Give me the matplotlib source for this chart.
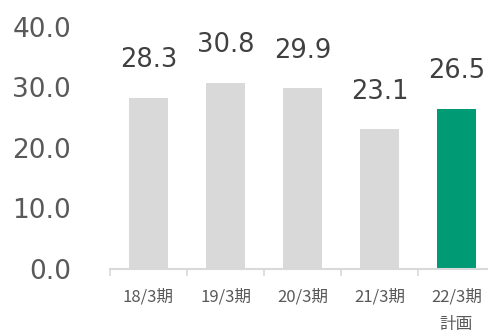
import numpy as np
import matplotlib.pyplot as plt

# 期別の数値（最終期は計画値）
periods = ['18/3期', '19/3期', '20/3期', '21/3期', '22/3期\n計画']
values = [28.3, 30.8, 29.9, 23.1, 26.5]
bar_colors = ['#d9d9d9', '#d9d9d9', '#d9d9d9', '#d9d9d9', '#009a74']
y_ticks = [0, 10, 20, 30, 40]

jp_font = ['Noto Sans CJK JP', 'DejaVu Sans']

fig = plt.figure(figsize=(4.88, 3.34), dpi=100)
ax = fig.add_axes([110 / 488, 65 / 334, 385 / 488, 242 / 334])

x = np.arange(len(periods))
ax.bar(x, values, width=0.5, color=bar_colors, zorder=2)

# 棒の上に値を表示
for xi, v in zip(x, values):
    ax.annotate(f'{v:.1f}', (xi, v), xytext=(0, 27), textcoords='offset points',
                ha='center', va='center', fontsize=18.5, color='#404040',
                family='DejaVu Sans')

ax.set_xlim(-0.5, len(periods) - 0.5)
ax.set_ylim(0, 40)

ax.set_yticks(y_ticks)
ax.set_yticklabels([f'{t:.1f}' for t in y_ticks], fontsize=19, color='#595959',
                   family='DejaVu Sans')
ax.tick_params(axis='y', length=0, pad=28)

ax.set_xticks(x)
ax.set_xticklabels(periods, fontsize=12, color='#595959', family=jp_font,
                   linespacing=1.85)
ax.set_xticks(np.arange(-0.5, len(periods), 1.0), minor=True)
ax.tick_params(axis='x', which='major', length=0, pad=14)
ax.tick_params(axis='x', which='minor', length=5, width=1.2, color='#d9d9d9')

for side in ['top', 'right', 'left']:
    ax.spines[side].set_visible(False)
ax.spines['bottom'].set_color('#d9d9d9')
ax.spines['bottom'].set_linewidth(1.5)

fig.savefig('out.png', dpi=100)
